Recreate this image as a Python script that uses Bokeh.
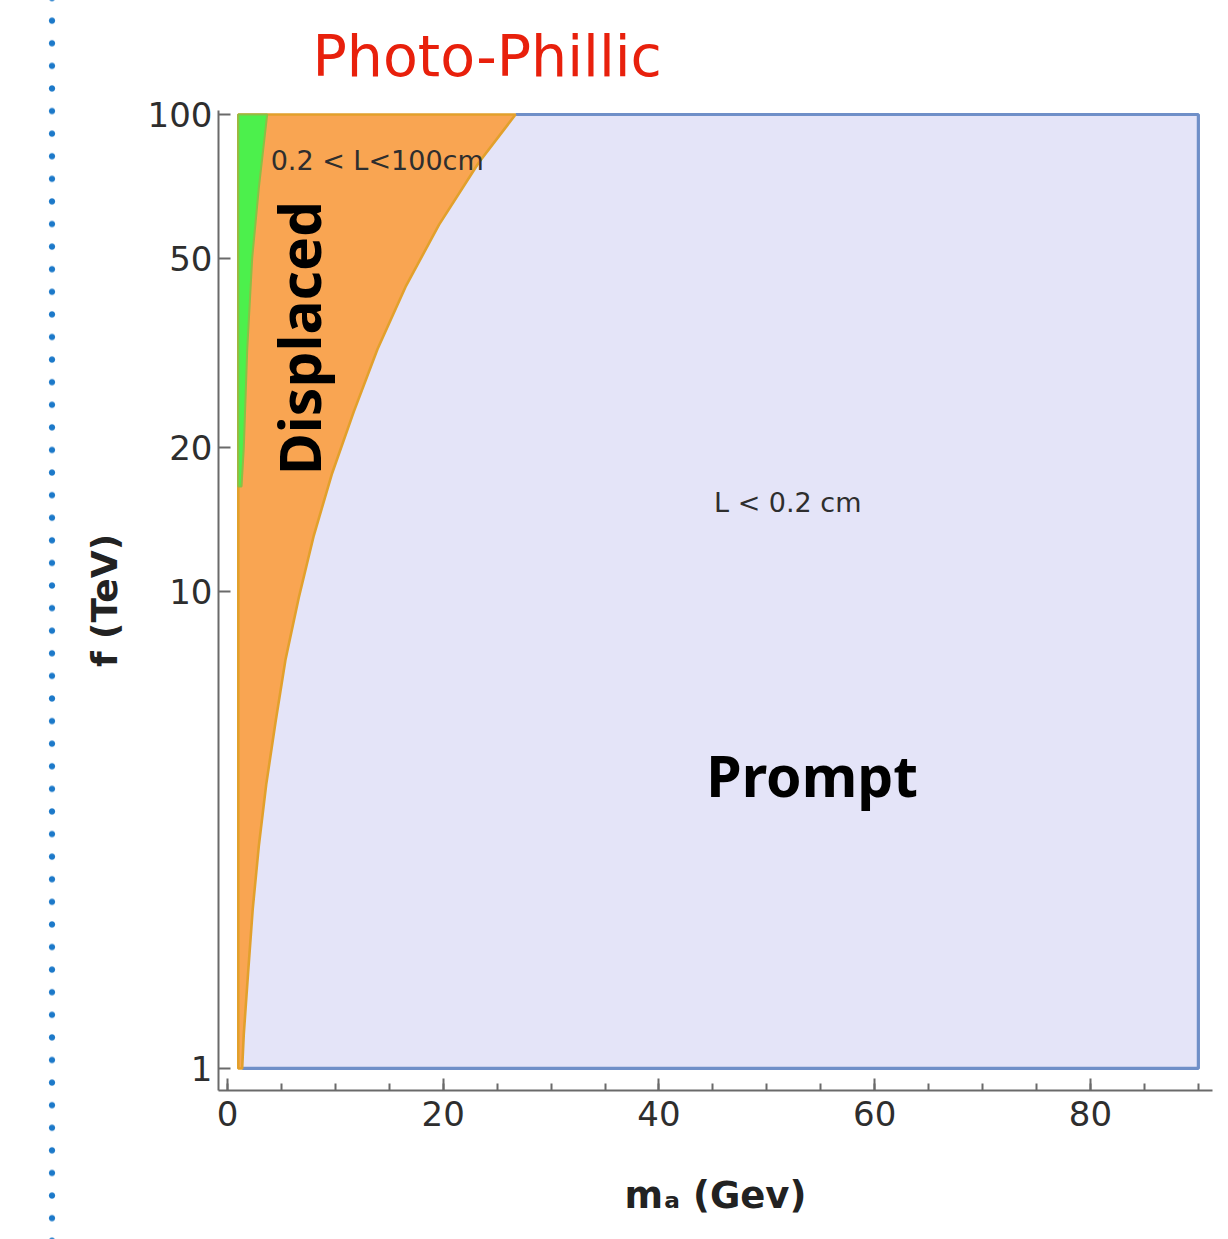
import math

from bokeh.embed import file_html
from bokeh.layouts import row
from bokeh.models import Div, FixedTicker, Label, NumeralTickFormatter, Range1d
from bokeh.plotting import figure
from bokeh.resources import INLINE

# Decay-length regions of a photophilic ALP in the (m_a, f) plane.
# Boundary L = 0.2 cm (prompt / displaced), listed from f = 100 TeV downwards
prompt_f = [100, 79.3, 58.7, 43.5, 32.2, 23.8, 17.7, 13.1, 9.69, 7.18, 5.32, 3.94, 2.92, 2.16, 1.60, 1.18, 1.0]
prompt_m = [26.7, 23.3, 19.6, 16.5, 13.9, 11.7, 9.7, 8.0, 6.6, 5.37, 4.45, 3.59, 2.90, 2.34, 1.92, 1.51, 1.36]

# Boundary L = 100 cm (displaced / long-lived), listed from f = 100 TeV downwards
long_f = [100, 70, 50, 32.2, 20, 16.6, 16.6]
long_m = [3.68, 2.9, 2.29, 1.83, 1.51, 1.3, 1.0]

# Scan domain
m_min, m_max = 1.0, 90.0
f_min, f_max = 1.0, 100.0

x_ticks = [0, 20, 40, 60, 80]
x_minor = [0, 5, 10, 15, 20, 25, 30, 35, 40, 45, 50, 55, 60, 65, 70, 75, 80, 85, 90]
y_ticks = [1, 10, 20, 50, 100]

AXIS = "#6a6a6a"
TXT = "#2e2e2e"

p = figure(
    width=1148, height=1239,
    x_range=Range1d(-0.834, 91.31), y_range=Range1d(0.899, 101.95),
    y_axis_type="log",
    title="Photo-Phillic",
    output_backend="svg", toolbar_location=None,
    min_border_left=138, min_border_right=16, min_border_top=110, min_border_bottom=149,
)
p.outline_line_color = None
p.grid.visible = False

p.title.text_font = "DejaVu Sans"
p.title.text_font_style = "normal"
p.title.text_font_size = "57px"
p.title.text_color = "#e8200c"
p.title.align = "left"
p.title.offset = 94
p.title.vertical_align = "top"
p.title.standoff = 40

# prompt region (L < 0.2 cm)
p.patch(prompt_m + [m_max, m_max], prompt_f + [f_min, f_max],
        fill_color="#e4e4f8", line_color=None)
p.line([prompt_m[0], m_max, m_max, prompt_m[-1]], [f_max, f_max, f_min, f_min],
       line_color="#6f8fc8", line_width=3.2)

# displaced region (0.2 < L < 100 cm)
p.patch([m_min, m_min] + prompt_m, [f_min, f_max] + prompt_f,
        fill_color="#f9a552", line_color="#e2a02c", line_width=2.6)

# long-lived region (L > 100 cm)
p.patch(long_m + [m_min], long_f + [f_max],
        fill_color="#4cf04c", line_color="#8cbf45", line_width=2)

# axes
for ax in (p.xaxis, p.yaxis):
    ax.axis_line_color = AXIS
    ax.axis_line_width = 2
    ax.major_tick_line_color = AXIS
    ax.major_tick_line_width = 2
    ax.minor_tick_line_color = AXIS
    ax.minor_tick_line_width = 2
    ax.major_tick_in = 12
    ax.major_tick_out = 0
    ax.minor_tick_in = 7
    ax.minor_tick_out = 0
    ax.major_label_text_font = "DejaVu Sans"
    ax.major_label_text_font_size = "34px"
    ax.major_label_text_color = TXT
    ax.axis_label_text_font = "DejaVu Sans"
    ax.axis_label_text_font_style = "bold"
    ax.axis_label_text_color = "#222222"

p.xaxis.ticker = FixedTicker(ticks=x_ticks, minor_ticks=x_minor)
p.yaxis.ticker = FixedTicker(ticks=y_ticks, minor_ticks=[])
p.yaxis.formatter = NumeralTickFormatter(format="0")
p.xaxis.major_label_standoff = 10
p.yaxis.major_label_standoff = 6

p.yaxis.axis_label = "f (TeV)"
p.yaxis.axis_label_text_font_size = "36px"
p.yaxis.axis_label_standoff = 20

p.xaxis.axis_label = "m\u2090 (Gev)"
p.xaxis.axis_label_text_font_size = "37px"
p.xaxis.axis_label_standoff = 45

# region labels
p.add_layout(Label(x=4.0, y=80, text="0.2 < L<100cm", text_font="DejaVu Sans",
                   text_font_size="27px", text_color=TXT, text_baseline="middle"))
p.add_layout(Label(x=45.1, y=15.4, text="L < 0.2 cm", text_font="DejaVu Sans",
                   text_font_size="27px", text_color=TXT, text_baseline="middle"))
p.add_layout(Label(x=6.6, y=34, text="Displaced", angle=math.pi / 2,
                   text_font="Noto Sans", text_font_style="bold",
                   text_font_size="57px", text_color="black",
                   text_align="center", text_baseline="middle"))
p.add_layout(Label(x=54.2, y=4.13, text="Prompt",
                   text_font="Noto Sans", text_font_style="bold",
                   text_font_size="57px", text_color="black",
                   text_align="center", text_baseline="alphabetic"))

# dotted separator on the left
dots = Div(
    width=80, height=1239, margin=0,
    text=(
        '<div style="width:80px;height:1239px;'
        'background-image:radial-gradient(circle at center, #1c79c9 0px, #1c79c9 2.6px, '
        'rgba(28,121,201,0) 3.6px);'
        'background-size:80px 22.6px;background-repeat:repeat;'
        'background-position:12px 9.4px;"></div>'
    ),
)

layout = row(dots, p)
open("out.html", "w").write(file_html(layout, INLINE))
